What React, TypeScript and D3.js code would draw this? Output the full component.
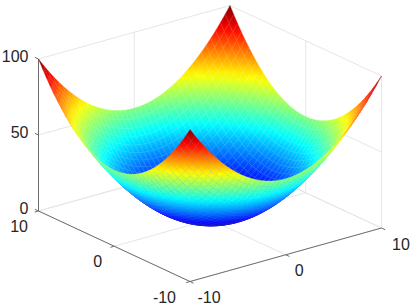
import * as d3 from 'd3';

// paraboloid heights for one quadrant, read at |x|, |y| = 0, 0.5 ... 10, mirrored to the other three
const zQuadrant = [
  [0,.1,.5,1.1,2,3.1,4.5,6.1,8,10.1,12.5,15.1,18,21.1,24.5,28.1,32,36.1,40.5,45.1,50],
  [.1,.2,.6,1.2,2.1,3.2,4.6,6.2,8.1,10.2,12.6,15.2,18.1,21.2,24.6,28.2,32.1,36.2,40.6,45.2,50.1],
  [.5,.6,1,1.6,2.5,3.6,5,6.6,8.5,10.6,13,15.6,18.5,21.6,25,28.6,32.5,36.6,41,45.6,50.5],
  [1.1,1.2,1.6,2.2,3.1,4.2,5.6,7.2,9.1,11.2,13.6,16.2,19.1,22.2,25.6,29.2,33.1,37.2,41.6,46.2,51.1],
  [2,2.1,2.5,3.1,4,5.1,6.5,8.1,10,12.1,14.5,17.1,20,23.1,26.5,30.1,34,38.1,42.5,47.1,52],
  [3.1,3.2,3.6,4.2,5.1,6.2,7.6,9.2,11.1,13.2,15.6,18.2,21.1,24.2,27.6,31.2,35.1,39.2,43.6,48.2,53.1],
  [4.5,4.6,5,5.6,6.5,7.6,9,10.6,12.5,14.6,17,19.6,22.5,25.6,29,32.6,36.5,40.6,45,49.6,54.5],
  [6.1,6.2,6.6,7.2,8.1,9.2,10.6,12.2,14.1,16.2,18.6,21.2,24.1,27.2,30.6,34.2,38.1,42.2,46.6,51.2,56.1],
  [8,8.1,8.5,9.1,10,11.1,12.5,14.1,16,18.1,20.5,23.1,26,29.1,32.5,36.1,40,44.1,48.5,53.1,58],
  [10.1,10.2,10.6,11.2,12.1,13.2,14.6,16.2,18.1,20.2,22.6,25.2,28.1,31.2,34.6,38.2,42.1,46.2,50.6,55.2,60.1],
  [12.5,12.6,13,13.6,14.5,15.6,17,18.6,20.5,22.6,25,27.6,30.5,33.6,37,40.6,44.5,48.6,53,57.6,62.5],
  [15.1,15.2,15.6,16.2,17.1,18.2,19.6,21.2,23.1,25.2,27.6,30.2,33.1,36.2,39.6,43.2,47.1,51.2,55.6,60.2,65.1],
  [18,18.1,18.5,19.1,20,21.1,22.5,24.1,26,28.1,30.5,33.1,36,39.1,42.5,46.1,50,54.1,58.5,63.1,68],
  [21.1,21.2,21.6,22.2,23.1,24.2,25.6,27.2,29.1,31.2,33.6,36.2,39.1,42.2,45.6,49.2,53.1,57.2,61.6,66.2,71.1],
  [24.5,24.6,25,25.6,26.5,27.6,29,30.6,32.5,34.6,37,39.6,42.5,45.6,49,52.6,56.5,60.6,65,69.6,74.5],
  [28.1,28.2,28.6,29.2,30.1,31.2,32.6,34.2,36.1,38.2,40.6,43.2,46.1,49.2,52.6,56.2,60.1,64.2,68.6,73.2,78.1],
  [32,32.1,32.5,33.1,34,35.1,36.5,38.1,40,42.1,44.5,47.1,50,53.1,56.5,60.1,64,68.1,72.5,77.1,82],
  [36.1,36.2,36.6,37.2,38.1,39.2,40.6,42.2,44.1,46.2,48.6,51.2,54.1,57.2,60.6,64.2,68.1,72.2,76.6,81.2,86.1],
  [40.5,40.6,41,41.6,42.5,43.6,45,46.6,48.5,50.6,53,55.6,58.5,61.6,65,68.6,72.5,76.6,81,85.6,90.5],
  [45.1,45.2,45.6,46.2,47.1,48.2,49.6,51.2,53.1,55.2,57.6,60.2,63.1,66.2,69.6,73.2,77.1,81.2,85.6,90.2,95.1],
  [50,50.1,50.5,51.1,52,53.1,54.5,56.1,58,60.1,62.5,65.1,68,71.1,74.5,78.1,82,86.1,90.5,95.1,100],
];
const xTicks = [-10, 0, 10];
const yTicks = [-10, 0, 10];
const zTicks = [0, 50, 100];

const gridSize = 40;
const gridValue = d3.scaleLinear().domain([0, gridSize]).range([-10, 10]);
const zAt = (i: number, j: number) => zQuadrant[Math.abs(i - 20)][Math.abs(j - 20)];

// axis scales, all three in screen px from the front floor corner
const xPx = d3.scaleLinear().domain([-10, 10]).range([0, 191.5]);
const xPy = d3.scaleLinear().domain([-10, 10]).range([0, -53.5]);
const yPx = d3.scaleLinear().domain([-10, 10]).range([0, -151.5]);
const yPy = d3.scaleLinear().domain([-10, 10]).range([0, -70.5]);
const zPy = d3.scaleLinear().domain([0, 100]).range([0, -152]);
const origin = [190, 281.5];

function project(x: number, y: number, z: number): [number, number] {
  return [origin[0] + xPx(x) + yPx(y), origin[1] + xPy(x) + yPy(y) + zPy(z)];
}

const jet = d3
  .scaleLinear<string>()
  .domain([0, 12.5, 37.5, 62.5, 87.5, 100])
  .range(['#000084', '#0000ff', '#00ffff', '#ffff00', '#ff0000', '#800000'])
  .interpolate(d3.interpolateRgb)
  .clamp(true);

type Cell = { id: string; d: string; fill: string; grad?: { x0: number; y0: number; x1: number; y1: number; c0: string; c1: string; c2: string } };

function buildCells(): Cell[] {
  const cells: Cell[] = [];
  // far corner first so nearer cells paint over
  for (let i = gridSize - 1; i >= 0; i--) {
    for (let j = gridSize - 1; j >= 0; j--) {
      const pts = [[i, j], [i + 1, j], [i + 1, j + 1], [i, j + 1]].map(([a, b]) => {
        const z = zAt(a, b);
        const p = project(gridValue(a), gridValue(b), z);
        return { x: p[0], y: p[1], z };
      });
      const [A, B, D, C] = pts;
      const d = 'M' + pts.map((p) => p.x.toFixed(2) + ',' + p.y.toFixed(2)).join('L') + 'Z';
      const zs = pts.map((p) => p.z);
      const zMin = d3.min(zs)!;
      const zMax = d3.max(zs)!;
      const zMean = d3.mean(zs)!;
      const id = 'c' + i + '_' + j;

      // screen-space slope of z across the cell, for the smooth colouring
      const ex1 = (B.x - A.x + D.x - C.x) / 2, ey1 = (B.y - A.y + D.y - C.y) / 2, dz1 = (B.z - A.z + D.z - C.z) / 2;
      const ex2 = (C.x - A.x + D.x - B.x) / 2, ey2 = (C.y - A.y + D.y - B.y) / 2, dz2 = (C.z - A.z + D.z - B.z) / 2;
      const det = ex1 * ey2 - ex2 * ey1;
      if (Math.abs(det) < 1 || zMax - zMin < 0.3) {
        cells.push({ id, d, fill: jet(zMean) });
        continue;
      }
      const gx = (dz1 * ey2 - dz2 * ey1) / det;
      const gy = (ex1 * dz2 - ex2 * dz1) / det;
      const g2 = gx * gx + gy * gy;
      const cx = d3.mean(pts, (p) => p.x)!;
      const cy = d3.mean(pts, (p) => p.y)!;
      cells.push({
        id,
        d,
        fill: `url(#${id})`,
        grad: {
          x0: cx + (gx * (zMin - zMean)) / g2,
          y0: cy + (gy * (zMin - zMean)) / g2,
          x1: cx + (gx * (zMax - zMean)) / g2,
          y1: cy + (gy * (zMax - zMean)) / g2,
          c0: jet(zMin),
          c1: jet((zMin + zMax) / 2),
          c2: jet(zMax),
        },
      });
    }
  }
  return cells;
}

const gridStroke = '#e6e6e6';
const axisStroke = '#6e6e6e';
const textColor = '#262626';
const tickLen = 4;

// label nudges along each floor axis, matched to the tick order
const yLabelDx = [-14, -12, -10.5];
const xLabelDx = [7.5, 9, 10.5];

function Seg({ a, b, stroke }: { a: [number, number]; b: [number, number]; stroke: string }) {
  return <line x1={a[0]} y1={a[1]} x2={b[0]} y2={b[1]} stroke={stroke} strokeWidth={1} />;
}

export default function App() {
  const cells = buildCells();
  const labelProps = { fontFamily: '"Liberation Sans", Arial, sans-serif', fontSize: 16, fill: textColor, dominantBaseline: 'central' as const };
  const xDir = [-0.963, 0.269];
  const yDir = [-0.907, -0.422];
  const xTickDir = [0.907, 0.422];

  return (
    <svg width={411} height={308} style={{ position: 'absolute', left: 0, top: 0, background: '#fff' }}>
      <defs>
        {cells.filter((c) => c.grad).map((c) => (
          <linearGradient key={c.id} id={c.id} gradientUnits="userSpaceOnUse" x1={c.grad!.x0} y1={c.grad!.y0} x2={c.grad!.x1} y2={c.grad!.y1}>
            <stop offset="0" stopColor={c.grad!.c0} />
            <stop offset="0.5" stopColor={c.grad!.c1} />
            <stop offset="1" stopColor={c.grad!.c2} />
          </linearGradient>
        ))}
      </defs>

      {/* grid on floor and back walls */}
      <g>
        {xTicks.map((x) => (
          <g key={'gx' + x}>
            <Seg a={project(x, -10, 0)} b={project(x, 10, 0)} stroke={gridStroke} />
            <Seg a={project(x, 10, 0)} b={project(x, 10, 100)} stroke={gridStroke} />
          </g>
        ))}
        {yTicks.map((y) => (
          <g key={'gy' + y}>
            <Seg a={project(-10, y, 0)} b={project(10, y, 0)} stroke={gridStroke} />
            <Seg a={project(10, y, 0)} b={project(10, y, 100)} stroke={gridStroke} />
          </g>
        ))}
        {zTicks.map((z) => (
          <g key={'gz' + z}>
            <Seg a={project(-10, 10, z)} b={project(10, 10, z)} stroke={gridStroke} />
            <Seg a={project(10, 10, z)} b={project(10, -10, z)} stroke={gridStroke} />
          </g>
        ))}
      </g>

      {/* axis lines and ticks */}
      <g>
        <Seg a={project(-10, 10, 0)} b={project(-10, 10, 100)} stroke={axisStroke} />
        <Seg a={project(-10, 10, 0)} b={project(-10, -10, 0)} stroke={axisStroke} />
        <Seg a={project(-10, -10, 0)} b={project(10, -10, 0)} stroke={axisStroke} />
        {zTicks.map((z) => {
          const p = project(-10, 10, z);
          return <Seg key={'tz' + z} a={p} b={[p[0] + yDir[0] * tickLen, p[1] + yDir[1] * tickLen]} stroke={axisStroke} />;
        })}
        {yTicks.map((y) => {
          const p = project(-10, y, 0);
          return <Seg key={'ty' + y} a={p} b={[p[0] + xDir[0] * tickLen, p[1] + xDir[1] * tickLen]} stroke={axisStroke} />;
        })}
        {xTicks.map((x) => {
          const p = project(x, -10, 0);
          return <Seg key={'tx' + x} a={p} b={[p[0] + xTickDir[0] * tickLen, p[1] + xTickDir[1] * tickLen]} stroke={axisStroke} />;
        })}
      </g>

      {/* surface: fill plus own-colour stroke to close the seams, then a faint light mesh */}
      <g>
        {cells.map((c) => (
          <g key={c.id}>
            <path d={c.d} fill={c.fill} stroke={c.fill} strokeWidth={0.4} strokeLinejoin="round" />
            <path d={c.d} fill="none" stroke="#fff" strokeOpacity={0.09} strokeWidth={0.6} />
          </g>
        ))}
      </g>

      {/* tick labels */}
      <g {...labelProps}>
        {zTicks.map((z) => {
          const p = project(-10, 10, z);
          return <text key={'lz' + z} x={p[0] - 10} y={p[1] - 3} textAnchor="end">{z}</text>;
        })}
        {yTicks.map((y, k) => {
          const p = project(-10, y, 0);
          return <text key={'ly' + y} x={p[0] + yLabelDx[k]} y={p[1] + 15.5} textAnchor="end">{y}</text>;
        })}
        {xTicks.map((x, k) => {
          const p = project(x, -10, 0);
          return <text key={'lx' + x} x={p[0] + xLabelDx[k]} y={p[1] + 16} textAnchor="start">{x}</text>;
        })}
      </g>
    </svg>
  );
}
